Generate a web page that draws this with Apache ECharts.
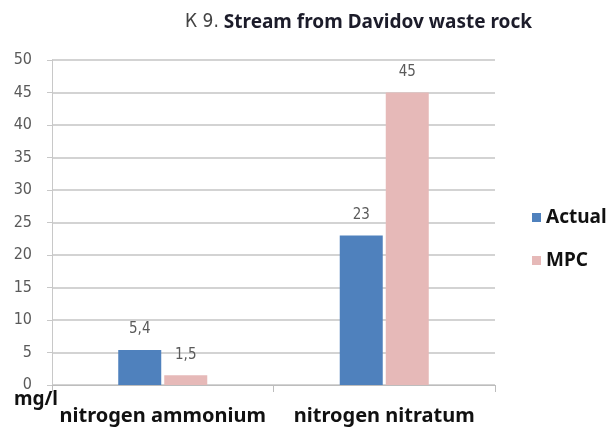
<!DOCTYPE html>
<html lang="en">

<head>
    <meta charset="UTF-8">
    <script src="https://cdn.jsdelivr.net/npm/echarts@6/dist/echarts.min.js"></script>
    <title>Stream from Davidov waste rock</title>
</head>
<style>
    body {
        margin: 0;
    }
</style>

<body>
    <div id="main" style="width: 609px;height:434px;"></div>
</body>
<script>
    let categories = ['nitrogen ammonium', 'nitrogen nitratum'];
    let actual = [5.4, 23];
    let mpc = [1.5, 45];
    let seriesNames = ['Actual', 'MPC'];

    let myChart = echarts.init(document.getElementById('main'));
    let labelFmt = p => String(p.value).replace('.', ',');
    let barLabel = {
        show: true,
        position: 'top',
        distance: 13,
        color: '#5a5a5a',
        fontFamily: 'DejaVu Sans Condensed',
        fontSize: 15,
        formatter: labelFmt
    };

    let option = {
        title: {
            text: '{a|К 9.} Stream from Davidov waste rock',
            left: 180,
            top: 8,
            textStyle: {
                fontFamily: 'Noto Sans',
                fontSize: 19,
                fontWeight: 'bold',
                color: '#1c1c2a',
                rich: {
                    a: {
                        fontFamily: 'DejaVu Sans Condensed',
                        fontSize: 19,
                        fontWeight: 'normal',
                        color: '#444'
                    }
                }
            }
        },
        legend: {
            data: seriesNames,
            orient: 'vertical',
            left: 527,
            top: 203,
            itemWidth: 9,
            itemHeight: 9,
            itemGap: 24,
            icon: 'rect',
            textStyle: {
                fontFamily: 'Noto Sans',
                fontSize: 19,
                fontWeight: 'bold',
                color: '#111'
            }
        },
        grid: {
            left: 52,
            right: 114,
            top: 60,
            bottom: 49,
            outerBoundsMode: 'none'
        },
        xAxis: {
            type: 'category',
            data: categories,
            axisLine: { lineStyle: { color: '#bdbdbd' } },
            axisTick: { show: true, length: 7, lineStyle: { color: '#bdbdbd' } },
            axisLabel: {
                interval: 0,
                margin: 21,
                fontFamily: 'Noto Sans',
                fontSize: 20,
                fontWeight: 'bold',
                color: '#111'
            }
        },
        yAxis: {
            type: 'value',
            min: 0,
            max: 50,
            interval: 5,
            name: 'mg/l',
            nameLocation: 'start',
            nameGap: 5,
            nameMoveOverlap: false,
            nameTextStyle: {
                align: 'right',
                verticalAlign: 'top',
                padding: [0, -6, 0, 0],
                fontFamily: 'Noto Sans',
                fontSize: 19,
                fontWeight: 'bold',
                color: '#111'
            },
            axisLine: { show: true, lineStyle: { color: '#c8c8c8' } },
            axisTick: { show: true, length: 5, lineStyle: { color: '#c8c8c8' } },
            axisLabel: {
                margin: 20,
                fontFamily: 'DejaVu Sans Condensed',
                fontSize: 16,
                color: '#5a5a5a'
            },
            splitLine: { lineStyle: { color: '#c4c4c4', width: 1.5 } }
        },
        series: [
            {
                name: seriesNames[0],
                type: 'bar',
                data: actual,
                barWidth: 43,
                barGap: '7%',
                itemStyle: { color: '#4f81bd' },
                label: barLabel
            },
            {
                name: seriesNames[1],
                type: 'bar',
                data: mpc,
                barWidth: 43,
                barGap: '7%',
                itemStyle: { color: '#e6b9b8' },
                label: barLabel
            }
        ]
    };

    myChart.setOption(option);
</script>

</html>
